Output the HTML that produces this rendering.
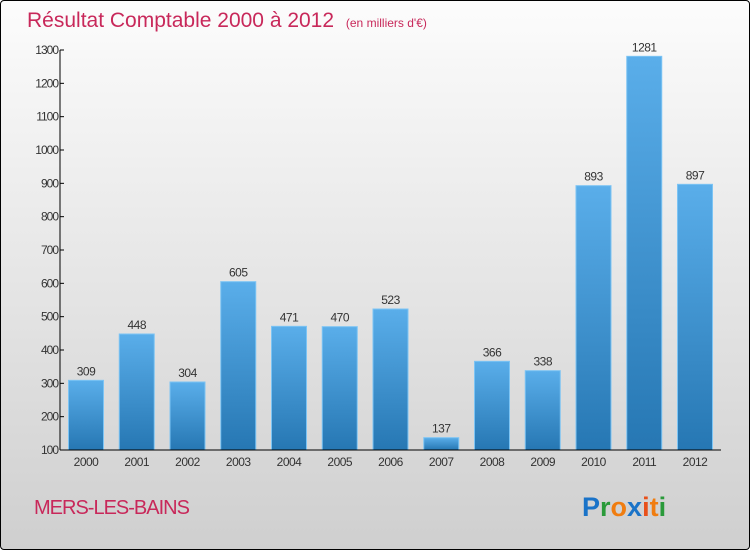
<!DOCTYPE html>
<html><head><meta charset="utf-8"><style>
html,body{margin:0;padding:0}
body{width:750px;height:550px;overflow:hidden;font-family:"Liberation Sans",sans-serif}
#wrap{position:absolute;left:0;top:0;width:748px;height:548px;border:1px solid #000;border-radius:4px;background:linear-gradient(#fcfcfc,#e6e6e6 50%,#cfcfcf)}
</style></head><body>
<div id="wrap">
<svg width="750" height="550" style="position:absolute;left:-1px;top:-1px">
<defs>
<linearGradient id="bg" x1="0" y1="0" x2="0" y2="1"><stop offset="0" stop-color="#5aaeea"/><stop offset="1" stop-color="#2677b3"/></linearGradient>
</defs>
<text x="27" y="27" font-size="21" fill="#c8285a">Résultat Comptable 2000 à 2012 <tspan font-size="12" dx="6">(en milliers d'€)</tspan></text>
<g id="yaxis"></g>
<g id="bars"></g>
<g id="xaxis"></g>
<text x="34" y="514" font-size="20" fill="#c8285a" letter-spacing="-1">MERS-LES-BAINS</text>
<text x="582" y="516" font-size="27" font-weight="bold"><tspan fill="#1a73c8">P</tspan><tspan fill="#2a9a3a">r</tspan><tspan fill="#f07d10">o</tspan><tspan fill="#1a73c8">x</tspan><tspan fill="#e8501a">i</tspan><tspan fill="#f07d10">t</tspan><tspan fill="#2a9a3a">i</tspan></text>
</svg>
</div>
<script>
const categories=["2000","2001","2002","2003","2004","2005","2006","2007","2008","2009","2010","2011","2012"];
const values=[309,448,304,605,471,470,523,137,366,338,893,1281,897];
const yTicks=[100,200,300,400,500,600,700,800,900,1000,1100,1200,1300];
const NS="http://www.w3.org/2000/svg";
const y0=450,y1=50,vmin=100,vmax=1300;
function y(v){return y0-(v-vmin)/(vmax-vmin)*(y0-y1);}
function xc(i){return 86+i*50.75;}
function mk(t,a,p,txt){const e=document.createElementNS(NS,t);for(const k in a)e.setAttribute(k,a[k]);if(txt!==undefined)e.textContent=txt;p.appendChild(e);return e;}
const ya=document.getElementById('yaxis'),ba=document.getElementById('bars'),xa=document.getElementById('xaxis');
let l=mk('line',{x1:60,y1:50,x2:60,y2:450,stroke:'#000'},ya);


yTicks.forEach(v=>{
 let t=mk('line',{x1:60,x2:64,y1:y(v),y2:y(v),stroke:'#000'},ya);
 
 
 let s=mk('text',{x:58,y:y(v)+4,'font-size':12,fill:'#333','text-anchor':'end','letter-spacing':'-1'},ya,v);
 
 
});
values.forEach((v,i)=>{
 let r=mk('rect',{x:xc(i)-17.5,y:y(v),width:35,height:y0-y(v),fill:'url(#bg)',stroke:'#7cc4f4','stroke-width':1},ba);
 
 
 let s=mk('text',{x:xc(i),y:y(v)-5,'font-size':12,fill:'#333','text-anchor':'middle','letter-spacing':'-0.5'},ba,v);
 
 
 let c=mk('text',{x:xc(i),y:466,'font-size':12,fill:'#333','text-anchor':'middle','letter-spacing':'-0.5'},xa,categories[i]);
 
 
});
let b=mk('line',{x1:60,y1:450,x2:721,y2:450,stroke:'#000'},xa);


</script>
</body></html>
